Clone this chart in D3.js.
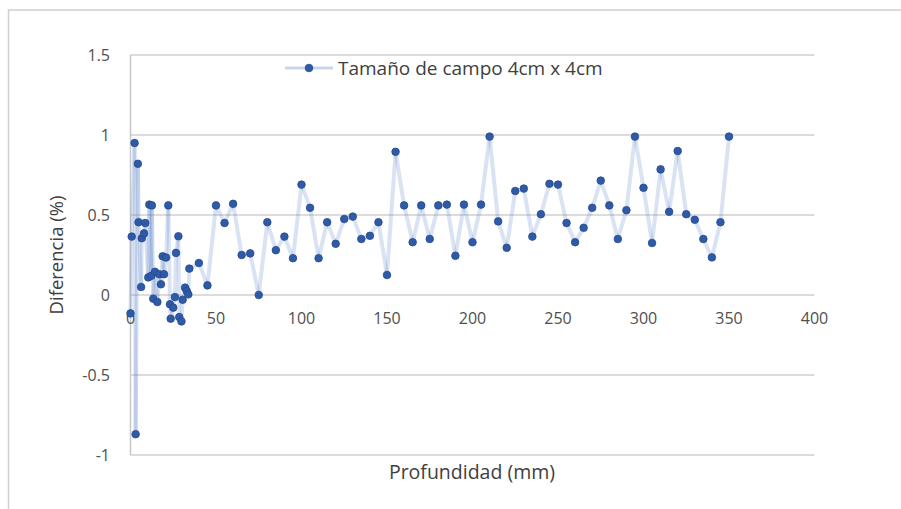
<!DOCTYPE html>
<html>
<head>
<meta charset="utf-8">
<script src="https://cdn.jsdelivr.net/npm/d3@7"></script>
<style>
  body { margin: 0; background: #fff; }
  text { font-family: "Open Sans", "Noto Sans", sans-serif; fill: #404040; }
</style>
</head>
<body>
<div id="chart"></div>
<script>
const width = 901;
const height = 509;

// Profundidad (mm)
const depths = [0, 0.7, 2.4, 3, 4.3, 4.7, 6.2, 6.6, 7.9, 8.6, 10.4, 11, 12.2, 12.5, 13.3, 14.3,
    15.7, 16.8, 17.8, 18.8, 19.6, 20.8, 22.1, 23.1, 23.5, 25, 26, 26.6, 28, 28.5, 29.8, 30.5,
    31.9, 32.9, 33.8, 34.4, 40, 45, 50, 55, 60, 65, 70, 75, 80, 85, 90, 95, 100, 105, 110, 115,
    120, 125, 130, 135, 140, 145, 150, 155, 160, 165, 170, 175, 180, 185, 190, 195, 200, 205,
    210, 215, 220, 225, 230, 235, 240, 245, 250, 255, 260, 265, 270, 275, 280, 285, 290, 295,
    300, 305, 310, 315, 320, 325, 330, 335, 340, 345, 350];

// Diferencia (%)
const diffs = [-0.115, 0.365, 0.95, -0.87, 0.82, 0.455, 0.05, 0.355, 0.385, 0.45, 0.11, 0.565,
    0.12, 0.56, -0.023, 0.145, -0.044, 0.13, 0.067, 0.242, 0.13, 0.234, 0.56, -0.058, -0.148,
    -0.079, -0.013, 0.263, 0.367, -0.138, -0.165, -0.03, 0.046, 0.025, 0.004, 0.165, 0.2, 0.06,
    0.56, 0.45, 0.57, 0.25, 0.26, 0.0, 0.455, 0.28, 0.365, 0.23, 0.69, 0.545, 0.23, 0.455, 0.32,
    0.475, 0.49, 0.35, 0.37, 0.455, 0.125, 0.895, 0.56, 0.33, 0.56, 0.35, 0.56, 0.565, 0.245,
    0.565, 0.33, 0.565, 0.99, 0.46, 0.295, 0.65, 0.665, 0.365, 0.505, 0.695, 0.69, 0.45, 0.33,
    0.42, 0.545, 0.715, 0.56, 0.35, 0.53, 0.99, 0.67, 0.325, 0.785, 0.52, 0.9, 0.505, 0.47,
    0.35, 0.235, 0.455, 0.99];

const xTicks = [0, 50, 100, 150, 200, 250, 300, 350, 400];
const yTicks = [-1, -0.5, 0, 0.5, 1, 1.5];
const seriesName = "Tamaño de campo 4cm x 4cm";

const data = depths.map((d, i) => ({ x: d, y: diffs[i] }));

const x = d3.scaleLinear().domain([0, 400]).range([130.5, 814.5]);
const y = d3.scaleLinear().domain([-1, 1.5]).range([455, 55]);

const svg = d3.select("#chart").append("svg")
    .attr("width", width)
    .attr("height", height);

// outer chart border (only top and left visible)
svg.append("path")
    .attr("d", `M8.5,${height} V10 H${width}`)
    .attr("fill", "none")
    .attr("stroke", "#d0d0d0")
    .attr("stroke-width", 1.5);

// gridlines
svg.append("g")
    .selectAll("line")
    .data(yTicks)
    .join("line")
    .attr("x1", x(0)).attr("x2", x(400))
    .attr("y1", d => y(d)).attr("y2", d => y(d))
    .attr("stroke", "#d0d0d0")
    .attr("stroke-width", 1.5);

// vertical value axis line
svg.append("line")
    .attr("x1", x(0)).attr("x2", x(0))
    .attr("y1", y(1.5)).attr("y2", y(-1))
    .attr("stroke", "#c8c8c8")
    .attr("stroke-width", 1.5);

// y tick labels
svg.append("g")
    .selectAll("text")
    .data(yTicks)
    .join("text")
    .attr("x", 110)
    .attr("y", d => y(d))
    .attr("dy", "0.35em")
    .attr("text-anchor", "end")
    .style("font-size", "16px")
    .style("fill", "#505050")
    .text(d => d);

// x tick labels (below the zero line)
svg.append("g")
    .selectAll("text")
    .data(xTicks)
    .join("text")
    .attr("x", d => x(d))
    .attr("y", y(0) + 23)
    .attr("dy", "0.35em")
    .attr("text-anchor", "middle")
    .style("font-size", "16px")
    .style("fill", "#505050")
    .text(d => d);

// axis titles
svg.append("text")
    .attr("x", 472)
    .attr("y", 472)
    .attr("dy", "0.35em")
    .attr("text-anchor", "middle")
    .style("font-size", "19.5px")
    .text("Profundidad (mm)");

svg.append("text")
    .attr("transform", `translate(57,${y(0.25)}) rotate(-90)`)
    .attr("dy", "0.35em")
    .attr("text-anchor", "middle")
    .style("font-size", "18.5px")
    .text("Diferencia (%)");

// line drawn segment by segment so overlaps deepen like the original
svg.append("g")
    .selectAll("line")
    .data(d3.pairs(data))
    .join("line")
    .attr("x1", d => x(d[0].x)).attr("y1", d => y(d[0].y))
    .attr("x2", d => x(d[1].x)).attr("y2", d => y(d[1].y))
    .attr("stroke", "#4472c4")
    .attr("stroke-opacity", 0.2)
    .attr("stroke-width", 4)
    .attr("stroke-linecap", "round");

// markers
svg.append("g")
    .selectAll("circle")
    .data(data)
    .join("circle")
    .attr("cx", d => x(d.x))
    .attr("cy", d => y(d.y))
    .attr("r", 3.8)
    .attr("fill", "#2f5aa8")
    .attr("stroke", "#26498c")
    .attr("stroke-width", 0.8);

// legend
const lg = svg.append("g").attr("transform", "translate(285,68)");
lg.append("line")
    .attr("x1", 0).attr("x2", 48)
    .attr("stroke", "#4472c4")
    .attr("stroke-opacity", 0.3)
    .attr("stroke-width", 3);
lg.append("circle")
    .attr("cx", 24).attr("r", 3.8)
    .attr("fill", "#2f5aa8")
    .attr("stroke", "#26498c")
    .attr("stroke-width", 0.8);
lg.append("text")
    .attr("x", 53)
    .attr("dy", "0.35em")
    .style("font-size", "19px")
    .text(seriesName);
</script>
</body>
</html>
